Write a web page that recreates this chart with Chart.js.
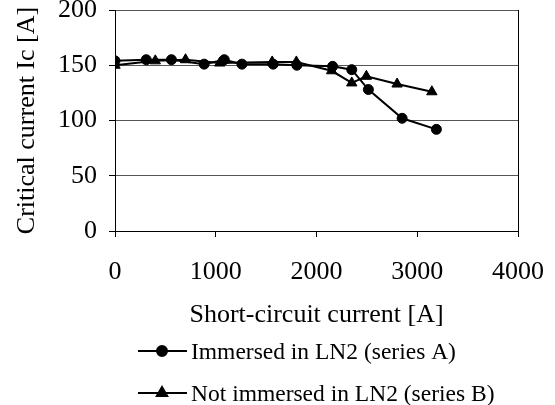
<!DOCTYPE html>
<html>
<head>
<meta charset="utf-8">
<script src="https://cdn.jsdelivr.net/npm/chart.js@4.4.0/dist/chart.umd.min.js"></script>
<style>
  html, body { margin: 0; padding: 0; background: #fff; }
  #wrap { width: 555px; height: 405px; position: relative; }
</style>
</head>
<body>
<div id="wrap"><canvas id="icChart"></canvas></div>
<script>
// Short-circuit current [A] and critical current Ic [A]
const seriesAx = [0, 310, 560, 885, 1085, 1260, 1570, 1805, 2160, 2350, 2515, 2850, 3190];
const seriesAy = [154, 155, 155, 151, 155, 151, 151, 150, 149, 146, 128, 102, 92];
const seriesBx = [0, 400, 700, 1040, 1560, 1800, 2150, 2350, 2495, 2800, 3145];
const seriesBy = [150, 154, 155, 152, 153, 153, 145, 134, 140, 133, 126];
const xTicks = [0, 1000, 2000, 3000, 4000];
const yTicks = [0, 50, 100, 150, 200];

const serif = '"Liberation Serif", "Times New Roman", serif';

const toPoints = (xs, ys) => xs.map((x, i) => ({ x: x, y: ys[i] }));

// legend drawn under the axis title, line with marker in the middle
const lineLegend = {
  id: 'lineLegend',
  afterDraw(chart) {
    const ctx = chart.ctx;
    ctx.save();
    chart.data.datasets.forEach((ds, i) => {
      const y = 351 + i * 42;
      ctx.strokeStyle = '#000';
      ctx.fillStyle = '#000';
      ctx.lineWidth = 2;
      ctx.beginPath();
      ctx.moveTo(138, y);
      ctx.lineTo(187, y);
      ctx.stroke();
      Chart.helpers.drawPoint(ctx, { pointStyle: ds.pointStyle, radius: ds.pointRadius, borderWidth: 1 }, 162, y);
      ctx.font = '23.5px ' + serif;
      ctx.textBaseline = 'middle';
      ctx.textAlign = 'left';
      ctx.fillText(ds.label, 191, y + 2);
    });
    ctx.restore();
  }
};

// right edge of the plot box
const plotFrame = {
  id: 'plotFrame',
  afterDatasetsDraw(chart) {
    const { ctx, chartArea } = chart;
    ctx.save();
    ctx.strokeStyle = '#000';
    ctx.lineWidth = 1;
    ctx.beginPath();
    ctx.moveTo(chartArea.right + 0.5, chartArea.top);
    ctx.lineTo(chartArea.right + 0.5, chartArea.bottom);
    ctx.stroke();
    ctx.restore();
  }
};

new Chart(document.getElementById('icChart'), {
  type: 'scatter',
  data: {
    datasets: [
      {
        label: 'Immersed in LN2 (series A)',
        data: toPoints(seriesAx, seriesAy),
        showLine: true,
        borderColor: '#000',
        backgroundColor: '#000',
        borderWidth: 2,
        pointStyle: 'circle',
        pointRadius: 5,
        pointBorderWidth: 1,
      },
      {
        label: 'Not immersed in LN2 (series B)',
        data: toPoints(seriesBx, seriesBy),
        showLine: true,
        borderColor: '#000',
        backgroundColor: '#000',
        borderWidth: 2,
        pointStyle: 'triangle',
        pointRadius: 6,
        pointBorderWidth: 1,
      },
    ],
  },
  options: {
    responsive: true,
    maintainAspectRatio: false,
    animation: false,
    layout: { padding: { top: 10, right: 37, bottom: 72, left: 0 } },
    plugins: {
      legend: { display: false },
      tooltip: { enabled: false },
    },
    scales: {
      x: {
        type: 'linear',
        min: 0,
        max: 4000,
        afterBuildTicks: (axis) => { axis.ticks = xTicks.map((v) => ({ value: v })); },
        afterFit: (axis) => { axis.height = 102; axis.paddingLeft = 0; axis.paddingRight = 0; },
        grid: { drawOnChartArea: false, drawTicks: true, tickLength: 6, tickColor: '#000' },
        border: { color: '#000', width: 1 },
        ticks: {
          color: '#000',
          padding: 20,
          maxRotation: 0,
          font: { family: serif, size: 26 },
          callback: (v) => String(v),
        },
        title: {
          display: true,
          text: 'Short-circuit current [A]',
          color: '#000',
          padding: { top: 2, bottom: 2 },
          font: { family: serif, size: 26 },
        },
      },
      y: {
        type: 'linear',
        min: 0,
        max: 200,
        afterBuildTicks: (axis) => { axis.ticks = yTicks.map((v) => ({ value: v })); },
        afterFit: (axis) => { axis.width = 115; axis.paddingTop = 0; axis.paddingBottom = 0; },
        grid: { color: '#555', lineWidth: 1, drawTicks: true, tickLength: 6, tickColor: '#000' },
        border: { color: '#000', width: 1 },
        ticks: {
          color: '#000',
          padding: 12,
          font: { family: serif, size: 26 },
          callback: (v) => String(v),
        },
        title: {
          display: true,
          text: 'Critical current Ic [A]',
          color: '#000',
          padding: { top: 12, bottom: 0 },
          font: { family: serif, size: 26 },
        },
      },
    },
  },
  plugins: [lineLegend, plotFrame],
});
</script>
</body>
</html>
